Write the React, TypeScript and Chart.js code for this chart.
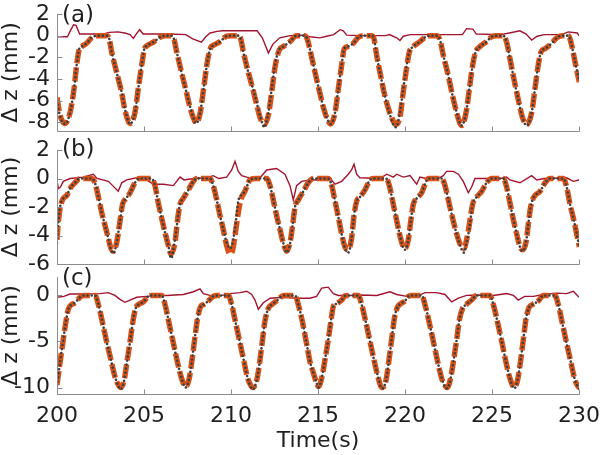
import React, { useEffect, useRef } from 'react';
import { Chart, registerables } from 'chart.js';

Chart.register(...registerables);

// ---------- shared ----------
const X_TICKS = [200, 205, 210, 215, 220, 225, 230];
const X_MIN = 200;
const X_MAX = 230;
const Y_TITLE = 'Δ z (mm)';
const X_TITLE = 'Time(s)';

// ---------- panel (a) ----------
const A_LABEL = '(a)';
const A_YTICKS = [2, 0, -2, -4, -6, -8];
const A_YMIN = -8.8;
const A_YMAX = 2;
const A_T = [
  200.0, 200.17, 200.46, 200.75, 200.98, 201.13, 201.28, 201.42, 201.70, 201.99, 202.28, 202.85,
  203.0, 203.14, 203.43, 203.72, 203.91, 204.10, 204.2, 204.48, 204.67, 204.87, 205.02, 205.15, 205.54, 205.92, 206.21, 206.59,
  206.72, 206.88, 207.16, 207.45, 207.64, 207.84, 207.99, 208.22, 208.45, 208.64, 208.83, 208.98, 209.37, 209.75, 210.04, 210.42,
  210.56, 210.71, 211.0, 211.28, 211.48, 211.7, 211.92, 212.15, 212.34, 212.53, 212.78, 213.01, 213.39, 213.77, 214.25,
  214.4, 214.54, 214.83, 215.11, 215.34, 215.59, 215.73, 215.98, 216.17, 216.36, 216.51, 216.74, 217.03, 217.32, 217.6, 218.08,
  218.22, 218.37, 218.6, 218.85, 219.1, 219.33, 219.48, 219.71, 219.9, 220.1, 220.25, 220.48, 220.86, 221.15, 221.44, 221.82,
  222.01, 222.2, 222.49, 222.74, 222.97, 223.16, 223.26, 223.51, 223.7, 223.89, 224.06, 224.31, 224.69, 224.98, 225.27, 225.65,
  225.84, 226.03, 226.26, 226.51, 226.74, 226.99, 227.28, 227.47, 227.66, 227.82, 228.05, 228.43, 228.72, 229.0, 229.39, 229.58, 229.77, 230.02,
];
const A_MEAS = [
  -6.0, -7.4, -8.15, -7.1, -4.9, -2.7, -1.2, -1.0, -0.7, -0.2, 0, 0,
  -0.3, -1.5, -3.4, -5.25, -6.8, -7.9, -8.15, -7.1, -4.9, -2.7, -1.2, -0.95, -0.6, -0.15, 0, 0,
  -0.3, -1.5, -3.4, -5.3, -6.5, -7.6, -8.1, -7.2, -4.6, -2.4, -1.1, -0.9, -0.55, -0.05, 0, 0,
  -0.3, -1.5, -3.4, -5.0, -6.2, -7.6, -8.45, -7.1, -4.9, -2.7, -1.25, -1.0, -0.55, 0, 0,
  -0.4, -1.3, -3.4, -5.3, -6.8, -7.9, -8.15, -7.1, -4.9, -2.7, -1.2, -1.0, -0.7, -0.15, 0, 0,
  -0.3, -1.8, -3.7, -5.6, -7.1, -8.2, -8.45, -7.1, -4.9, -2.7, -1.5, -1.0, -0.55, -0.15, 0, 0,
  -0.4, -1.8, -3.7, -5.6, -7.1, -8.1, -8.3, -7.1, -4.9, -2.7, -1.5, -1.0, -0.55, -0.1, 0, 0,
  -0.6, -2.1, -4.0, -5.9, -7.5, -8.3, -7.1, -4.9, -2.7, -1.5, -1.2, -0.7, -0.2, 0, 0, -0.9, -2.4, -4.2,
];
const A_MODEL = [
  -5.7, -7.3, -8.1, -7.1, -4.9, -2.7, -1.25, -1.0, -0.7, -0.2, 0, 0,
  -0.3, -1.5, -3.4, -5.3, -6.9, -7.9, -8.1, -7.1, -4.9, -2.7, -1.25, -0.95, -0.6, -0.15, 0, 0,
  -0.3, -1.5, -3.4, -5.3, -6.6, -7.6, -8.05, -7.2, -4.6, -2.4, -1.1, -0.9, -0.55, -0.05, 0, 0,
  -0.3, -1.5, -3.4, -5.1, -6.4, -7.7, -8.2, -7.3, -5.2, -2.9, -1.3, -1.0, -0.55, 0, 0,
  -0.4, -1.3, -3.4, -5.3, -6.8, -7.9, -8.15, -7.1, -4.9, -2.7, -1.2, -1.0, -0.7, -0.15, 0, 0,
  -0.3, -1.8, -3.7, -5.6, -7.0, -7.9, -8.2, -7.5, -5.2, -2.9, -1.5, -1.0, -0.55, -0.15, 0, 0,
  -0.4, -1.8, -3.7, -5.6, -7.1, -8.1, -8.3, -7.1, -4.9, -2.7, -1.5, -1.0, -0.55, -0.1, 0, 0,
  -0.6, -2.1, -4.0, -5.9, -7.5, -8.2, -7.1, -4.9, -2.7, -1.5, -1.2, -0.7, -0.2, 0, 0, -0.9, -2.4, -4.3,
];
const A_ERR_T = [
  200.0, 200.6, 200.75, 200.95, 201.1, 201.3, 201.5, 202.0, 202.7, 203.0, 203.5, 203.9, 204.2, 204.39, 204.55, 204.75,
  204.95, 205.5, 206.5, 207.4, 207.8, 208.3, 208.55, 208.8, 209.2, 209.5, 210.5, 211.5, 211.8, 212.15, 212.4, 212.8,
  213.4, 214.1, 214.54, 215.1, 215.5, 215.9, 216.27, 216.45, 216.65, 217.4, 218.9, 219.1, 219.52, 219.71, 219.9, 220.3,
  223.3, 223.54, 223.9, 224.1, 225.5, 226.0, 226.6, 226.96, 227.28, 227.6, 228.0, 229.0, 229.38, 229.9, 230.0,
];
const A_ERR = [
  -0.1, -0.1, 0.4, 1.0, 0.95, 0.15, 0.15, 0.15, 0.15, 0.3, 0.35, 0.25, 0.1, -0.25, 0.15, 0.55,
  0.15, 0.15, 0.15, 0.1, -0.3, -0.6, -0.1, 0.25, 0.4, 0.45, 0.45, 0.45, -0.2, -1.6, -0.8, -0.2,
  0, 0.05, -0.1, -0.2, -0.05, 0.1, 0.55, 0.45, 0.05, 0, 0, 0.1, -0.2, -0.45, -0.05, 0.1,
  0.1, 0.65, 0.6, 0.15, 0.1, 0.25, 0.45, 0.15, -0.4, -0.05, 0.1, 0.1, 0.35, 0.25, 0,
];

// ---------- panel (b) ----------
const B_LABEL = '(b)';
const B_YTICKS = [2, 0, -2, -4, -6];
const B_YMIN = -6;
const B_YMAX = 2;
const B_T = [
  200.0, 200.08, 200.21, 200.36, 200.56, 200.75, 201.03, 201.32, 201.99,
  202.18, 202.38, 202.57, 202.76, 202.95, 203.1, 203.24, 203.43, 203.62, 203.77, 203.97, 204.2, 204.48, 204.73, 205.44,
  205.63, 205.82, 206.02, 206.21, 206.4, 206.55, 206.78, 206.92, 207.07, 207.26, 207.55, 207.84, 208.03, 208.79,
  208.98, 209.18, 209.37, 209.56, 209.75, 209.94, 210.1, 210.23, 210.42, 210.56, 210.8, 211.09, 211.38, 212.05,
  212.24, 212.43, 212.62, 212.82, 213.0, 213.2, 213.39, 213.54, 213.68, 213.87, 214.16, 214.44, 214.73, 215.59,
  215.79, 215.98, 216.17, 216.36, 216.55, 216.74, 216.93, 217.07, 217.22, 217.41, 217.7, 217.99, 218.18, 218.91,
  219.1, 219.29, 219.48, 219.67, 219.87, 220.0, 220.19, 220.33, 220.48, 220.67, 220.96, 221.15, 221.34, 222.11,
  222.3, 222.49, 222.74, 222.97, 223.2, 223.39, 223.54, 223.7, 223.89, 224.12, 224.41, 224.69, 224.98, 225.65,
  225.84, 226.03, 226.23, 226.42, 226.61, 226.76, 226.95, 227.09, 227.22, 227.41, 227.76, 228.05, 228.33, 229.1, 229.29, 229.48, 229.68, 229.87, 230.02,
];
const B_MEAS = [
  -4.5, -3.0, -1.8, -1.4, -1.2, -0.7, -0.3, 0, 0,
  -0.3, -1.3, -2.4, -3.3, -4.2, -5.0, -5.25, -4.5, -3.0, -1.8, -1.4, -1.0, -0.3, 0, 0,
  -0.5, -1.7, -2.8, -3.8, -4.7, -5.6, -4.3, -3.0, -1.8, -1.4, -0.8, -0.2, 0, 0,
  -0.5, -1.5, -2.6, -3.6, -4.5, -4.9, -4.5, -3.5, -1.6, -1.2, -0.9, -0.1, 0, 0,
  -0.5, -1.5, -2.6, -3.6, -4.5, -5.2, -4.6, -3.3, -2.0, -1.5, -0.9, -0.3, 0, 0,
  -0.5, -1.6, -2.7, -3.9, -4.9, -5.2, -4.2, -2.6, -1.6, -1.3, -0.8, -0.1, 0, 0,
  -0.5, -1.6, -2.7, -3.8, -4.8, -5.0, -4.3, -3.0, -1.8, -1.4, -1.0, -0.4, 0, 0,
  -0.5, -1.5, -2.8, -3.9, -4.8, -5.2, -4.5, -3.5, -1.8, -1.3, -0.9, -0.3, 0, 0,
  -0.6, -1.7, -2.9, -3.9, -4.8, -5.1, -4.5, -3.2, -2.0, -1.3, -0.9, -0.3, 0, 0, -0.6, -1.8, -2.8, -3.9, -4.8,
];
const B_MODEL = [
  -4.3, -3.0, -1.9, -1.4, -1.2, -0.7, -0.3, 0, 0,
  -0.3, -1.3, -2.4, -3.3, -4.2, -4.9, -5.1, -4.5, -3.0, -1.8, -1.4, -1.0, -0.3, 0, 0,
  -0.5, -1.7, -2.8, -3.8, -4.7, -5.3, -4.5, -3.0, -1.8, -1.4, -0.8, -0.2, 0, 0,
  -0.5, -1.5, -2.6, -3.6, -4.7, -5.3, -5.0, -4.0, -2.4, -1.5, -0.9, -0.1, 0, 0,
  -0.5, -1.5, -2.6, -3.6, -4.5, -5.1, -4.5, -3.3, -2.0, -1.5, -0.9, -0.3, 0, 0,
  -0.5, -1.6, -2.7, -3.9, -4.8, -5.0, -4.2, -2.6, -1.6, -1.3, -0.8, -0.1, 0, 0,
  -0.5, -1.6, -2.7, -3.8, -4.7, -4.9, -4.3, -3.0, -1.8, -1.4, -1.0, -0.4, 0, 0,
  -0.5, -1.5, -2.8, -3.9, -4.7, -4.9, -4.3, -3.2, -1.8, -1.3, -0.9, -0.3, 0, 0,
  -0.6, -1.7, -2.9, -3.9, -4.8, -5.0, -4.5, -3.2, -2.0, -1.3, -0.9, -0.3, 0, 0, -0.6, -1.8, -2.8, -3.9, -4.8,
];
const B_ERR_T = [
  200.0, 200.08, 200.2, 200.36, 200.75, 201.5, 202.09, 202.3, 202.95, 203.2, 203.52, 203.72, 204.0, 204.58, 205.15, 205.54,
  206.11, 206.69, 207.07, 207.3, 207.84, 208.6, 208.98, 209.3, 209.75, 210.04, 210.23, 210.42, 210.61, 210.9, 211.28, 211.67,
  212.05, 212.62, 213.1, 213.39, 213.58, 213.77, 214.06, 214.54, 215.2, 215.69, 215.98, 216.36, 216.74, 216.93, 217.07, 217.22,
  217.41, 218.56, 218.95, 219.33, 219.52, 219.9, 220.29, 220.67, 220.86, 221.2, 221.9, 222.2, 222.39, 222.78, 223.07, 223.35,
  223.64, 223.83, 224.02, 225.5, 225.84, 226.03, 226.61, 227.28, 227.57, 228.0, 229.29, 229.68, 230.0,
];
const B_ERR = [
  -0.2, -0.7, -0.6, -0.2, 0, 0.1, 0.3, 0, -0.2, -0.5, -0.9, -0.3, -0.1, 0.05, -0.1, -0.4,
  -0.4, -0.5, 0.1, -0.1, 0, 0.05, 0.2, 0, 0.1, 0.6, 1.2, 0.5, 0.2, 0.1, 0, 0.05,
  0.6, 0.7, 0.3, -0.5, -1.5, -0.5, -0.2, -0.1, -0.1, 0, -0.4, -0.2, 0.3, 0.6, 1.0, 0.3,
  0.05, 0, 0.3, 0.1, 0.3, 0.1, 0.2, -0.4, 0.1, 0, 0, 0.2, 0.5, 0.5, 0.3, -0.2,
  -1.0, -0.6, 0, 0, 0.1, -0.1, -0.3, 0.2, -0.1, 0, 0.05, -0.2, -0.1,
];

// ---------- panel (c) ----------
const C_LABEL = '(c)';
const C_YTICKS = [0, -5, -10];
const C_YMIN = -10.7;
const C_YMAX = 2;
const C_T = [
  200.0, 200.08, 200.27, 200.46, 200.65, 200.84, 201.03, 201.32, 201.51, 202.18,
  202.38, 202.62, 202.85, 203.1, 203.33, 203.52, 203.66, 203.85, 204.0, 204.2, 204.39, 204.54, 204.67, 204.96, 205.25, 205.44, 206.02,
  206.21, 206.44, 206.69, 206.93, 207.16, 207.3, 207.39, 207.6, 207.76, 207.93, 208.08, 208.26, 208.41, 208.7, 208.98, 209.18, 209.85,
  210.04, 210.27, 210.52, 210.75, 210.96, 211.15, 211.25, 211.48, 211.63, 211.8, 211.95, 212.15, 212.34, 212.62, 212.91, 213.1, 213.68,
  213.87, 214.12, 214.35, 214.54, 214.73, 214.92, 215.02, 215.21, 215.4, 215.59, 215.75, 215.88, 216.07, 216.36, 216.55, 216.74, 217.32,
  217.51, 217.76, 217.99, 218.24, 218.47, 218.6, 218.72, 218.91, 219.06, 219.23, 219.39, 219.56, 219.75, 220.0, 220.19, 220.38, 220.96,
  221.15, 221.4, 221.63, 221.88, 222.11, 222.3, 222.43, 222.62, 222.78, 222.97, 223.12, 223.31, 223.51, 223.83, 224.12, 224.88,
  225.08, 225.33, 225.56, 225.8, 226.03, 226.19, 226.28, 226.47, 226.65, 226.8, 226.95, 227.13, 227.32, 227.66, 227.95, 228.62,
  228.81, 229.04, 229.29, 229.54, 229.77, 229.96, 230.02,
];
const C_MEAS = [
  -9.8, -8.6, -6.0, -3.5, -1.5, -1.0, -0.8, -0.2, 0, 0,
  -1.0, -3.0, -5.0, -7.0, -8.8, -9.8, -10.2, -9.3, -7.5, -5.0, -2.5, -1.3, -1.0, -0.7, -0.1, 0, 0,
  -1.0, -3.0, -5.2, -7.3, -9.0, -9.8, -10.0, -9.0, -7.0, -4.5, -2.5, -1.2, -1.0, -0.6, -0.1, 0, 0,
  -1.0, -3.0, -5.2, -7.2, -9.0, -10.0, -10.2, -9.2, -7.5, -5.0, -2.8, -1.4, -1.0, -0.6, -0.1, 0, 0,
  -1.0, -3.0, -5.3, -7.2, -8.4, -9.5, -10.0, -9.0, -7.0, -4.8, -2.7, -1.2, -0.9, -0.5, -0.05, 0, 0,
  -1.0, -3.0, -5.0, -7.2, -9.0, -9.9, -10.1, -9.2, -7.3, -4.8, -2.5, -1.3, -0.9, -0.6, -0.1, 0, 0,
  -1.0, -3.0, -5.0, -7.2, -9.0, -9.9, -10.1, -9.0, -7.2, -4.8, -2.7, -1.4, -1.0, -0.5, 0, 0,
  -1.0, -3.0, -5.0, -7.2, -9.0, -9.9, -10.1, -9.2, -7.0, -4.8, -2.6, -1.3, -1.0, -0.6, 0, 0,
  -1.0, -3.0, -5.2, -7.3, -9.2, -10.0, -10.2,
];
const C_MODEL = [
  -9.7, -8.6, -6.0, -3.5, -1.5, -1.0, -0.8, -0.2, 0, 0,
  -1.0, -3.0, -5.0, -7.0, -8.8, -9.7, -10.0, -9.3, -7.5, -5.0, -2.5, -1.3, -1.0, -0.7, -0.1, 0, 0,
  -1.0, -3.0, -5.2, -7.3, -9.0, -9.7, -9.9, -9.0, -7.0, -4.5, -2.5, -1.2, -1.0, -0.6, -0.1, 0, 0,
  -1.0, -3.0, -5.2, -7.2, -9.0, -9.8, -10.0, -9.2, -7.5, -5.0, -2.8, -1.4, -1.0, -0.6, -0.1, 0, 0,
  -1.0, -3.0, -5.3, -7.2, -8.4, -9.5, -9.9, -9.0, -7.0, -4.8, -2.7, -1.2, -0.9, -0.5, -0.05, 0, 0,
  -1.0, -3.0, -5.0, -7.2, -9.0, -9.8, -10.0, -9.2, -7.3, -4.8, -2.5, -1.3, -0.9, -0.6, -0.1, 0, 0,
  -1.0, -3.0, -5.0, -7.2, -9.0, -9.8, -10.0, -9.0, -7.2, -4.8, -2.7, -1.4, -1.0, -0.5, 0, 0,
  -1.0, -3.0, -5.0, -7.2, -9.0, -9.8, -10.0, -9.2, -7.0, -4.8, -2.6, -1.3, -1.0, -0.6, 0, 0,
  -1.0, -3.0, -5.2, -7.3, -9.2, -9.9, -10.0,
];
const C_ERR_T = [
  200.0, 200.4, 200.75, 201.51, 202.47, 202.95, 203.33, 203.6, 203.9, 204.2, 204.58, 205.15, 205.73, 206.3, 207.26, 207.84,
  208.22, 208.41, 208.79, 209.37, 209.94, 210.52, 210.9, 211.19, 211.38, 211.57, 211.86, 212.24, 213.01, 213.79, 214.54, 214.92,
  215.21, 215.59, 215.88, 216.17, 216.84, 217.41, 218.37, 219.14, 219.52, 220.1, 220.67, 221.15, 221.82, 222.3, 222.68, 223.07,
  223.54, 224.12, 225.08, 225.84, 226.23, 226.51, 226.88, 227.38, 227.95, 228.72, 229.29, 229.68, 230.0,
];
const C_ERR = [
  -0.2, -0.1, 0.15, 0.15, 0.2, 0.3, 0, -0.4, -0.75, -0.5, -0.2, -0.1, 0, 0, 0.1, 0.4,
  0.7, 0.2, 0, -0.05, 0.2, 0.3, 0.45, 0.1, -0.5, -1.5, -0.8, -0.3, -0.2, -0.3, -0.3, -0.1,
  0.8, 0.9, 0.2, 0, 0, 0.05, 0, 0.4, 0.1, -0.1, -0.1, 0.3, 0.3, 0.1, -0.7, -0.3,
  0, 0.05, 0, 0.2, 0, -0.5, -0.1, -0.1, 0.1, 0.25, 0.2, 0.45, -0.2,
];

// ---------- styles ----------
const FONT_FAMILY = '"DejaVu Sans", "Liberation Sans", sans-serif';
const TEXT_COLOR = '#1f1f1f';
const AXIS_COLOR = '#8c8c8c';
const ORANGE = '#D95319';
const DARK = '#404040';
const RED = '#A2142F';

const pts = (t: number[], v: number[]) => t.map((x, i) => ({ x, y: v[i] }));

const decorPlugin = {
  id: 'panelDecor',
  afterDraw(chart: any, _args: any, opts: any) {
    const { ctx, chartArea, scales } = chart;
    const left = Math.round(chartArea.left) + 0.5;
    const bottom = Math.round(chartArea.bottom) + 0.5;
    const top = Math.round(chartArea.top);
    const right = Math.round(chartArea.right);
    ctx.save();
    ctx.strokeStyle = AXIS_COLOR;
    ctx.lineWidth = 1;
    ctx.beginPath();
    ctx.moveTo(left, top);
    ctx.lineTo(left, bottom);
    ctx.lineTo(right + 0.5, bottom);
    scales.x.ticks.forEach((tk: any) => {
      const x = Math.round(scales.x.getPixelForValue(tk.value)) + 0.5;
      ctx.moveTo(x, bottom);
      ctx.lineTo(x, bottom - 5);
    });
    scales.y.ticks.forEach((tk: any) => {
      const y = Math.round(scales.y.getPixelForValue(tk.value)) + 0.5;
      ctx.moveTo(left, y);
      ctx.lineTo(left + 5, y);
    });
    ctx.stroke();
    ctx.fillStyle = TEXT_COLOR;
    ctx.font = `23px ${FONT_FAMILY}`;
    ctx.textBaseline = 'alphabetic';
    ctx.textAlign = 'left';
    ctx.fillText(opts.label, chartArea.left + 5, chartArea.top + opts.dy);
    ctx.restore();
  },
};

type PanelProps = {
  canvasTop: number;
  height: number;
  padTop: number;
  xHeight: number;
  showX: boolean;
  label: string;
  labelDy: number;
  yMin: number;
  yMax: number;
  yTicks: number[];
  t: number[];
  meas: number[];
  model: number[];
  errT: number[];
  err: number[];
};

function Panel(p: PanelProps) {
  const ref = useRef<HTMLCanvasElement | null>(null);
  useEffect(() => {
    if (!ref.current) return;
    const font = { family: FONT_FAMILY, size: 22 };
    const chart = new Chart(ref.current, {
      type: 'line',
      data: {
        datasets: [
          {
            data: pts(p.t, p.meas),
            borderColor: DARK,
            borderWidth: 2.6,
            borderDash: [0.1, 4],
            borderCapStyle: 'round',
            pointRadius: 0,
            fill: false,
            cubicInterpolationMode: 'monotone',
            order: 0,
          },
          {
            data: pts(p.t, p.model),
            borderColor: ORANGE,
            borderWidth: 5.5,
            borderDash: [14, 4],
            pointRadius: 0,
            fill: false,
            cubicInterpolationMode: 'monotone',
            order: 1,
          },
          {
            data: pts(p.errT, p.err),
            borderColor: RED,
            borderWidth: 1.4,
            pointRadius: 0,
            fill: false,
            tension: 0,
            order: 2,
          },
        ],
      } as any,
      options: {
        animation: false,
        responsive: false,
        devicePixelRatio: 1,
        layout: { padding: { top: p.padTop, right: 21, bottom: 0, left: 0 } },
        plugins: {
          legend: { display: false },
          tooltip: { enabled: false },
          panelDecor: { label: p.label, dy: p.labelDy },
        } as any,
        scales: {
          x: {
            type: 'linear',
            min: X_MIN,
            max: X_MAX,
            afterBuildTicks: (s: any) => {
              s.ticks = X_TICKS.map((v) => ({ value: v }));
            },
            afterFit: (s: any) => {
              s.height = p.xHeight;
              s.paddingLeft = 0;
              s.paddingRight = 0;
            },
            grid: { display: false, drawTicks: false },
            border: { display: false },
            ticks: {
              display: p.showX,
              font,
              color: TEXT_COLOR,
              padding: 9,
              maxRotation: 0,
              autoSkip: false,
            },
            title: {
              display: p.showX,
              text: X_TITLE,
              font: { family: FONT_FAMILY, size: 22, lineHeight: 1 },
              color: TEXT_COLOR,
              padding: { top: 0, bottom: 3 },
            },
          },
          y: {
            type: 'linear',
            min: p.yMin,
            max: p.yMax,
            afterBuildTicks: (s: any) => {
              s.ticks = p.yTicks.map((v) => ({ value: v }));
            },
            afterFit: (s: any) => {
              s.width = 57;
              s.paddingTop = 0;
              s.paddingBottom = 0;
            },
            grid: { display: false, drawTicks: false },
            border: { display: false },
            ticks: { font, color: TEXT_COLOR, padding: 7, autoSkip: false },
            title: {
              display: true,
              text: Y_TITLE,
              font: { family: FONT_FAMILY, size: 22, lineHeight: 1 },
              color: TEXT_COLOR,
              padding: { top: 0, bottom: 0 },
            },
          },
        },
      } as any,
      plugins: [decorPlugin as any],
    });
    return () => chart.destroy();
  }, []);
  return (
    <canvas
      ref={ref}
      width={600}
      height={p.height}
      style={{ position: 'absolute', left: 0, top: p.canvasTop, width: 600, height: p.height }}
    />
  );
}

export default function App() {
  return (
    <div style={{ position: 'fixed', left: 0, top: 0, width: 600, height: 455, background: '#ffffff', overflow: 'hidden' }}>
      <Panel canvasTop={0} height={145} padTop={14} xHeight={14} showX={false} label={A_LABEL} labelDy={8}
        yMin={A_YMIN} yMax={A_YMAX} yTicks={A_YTICKS} t={A_T} meas={A_MEAS} model={A_MODEL} errT={A_ERR_T} err={A_ERR} />
      <Panel canvasTop={136} height={140} padTop={14} xHeight={12} showX={false} label={B_LABEL} labelDy={6}
        yMin={B_YMIN} yMax={B_YMAX} yTicks={B_YTICKS} t={B_T} meas={B_MEAS} model={B_MODEL} errT={B_ERR_T} err={B_ERR} />
      <Panel canvasTop={262} height={193} padTop={15} xHeight={61} showX={true} label={C_LABEL} labelDy={8}
        yMin={C_YMIN} yMax={C_YMAX} yTicks={C_YTICKS} t={C_T} meas={C_MEAS} model={C_MODEL} errT={C_ERR_T} err={C_ERR} />
    </div>
  );
}
